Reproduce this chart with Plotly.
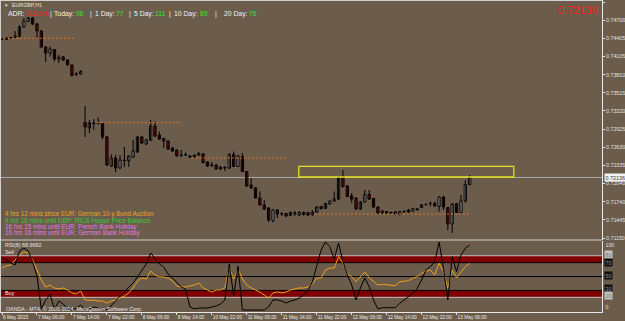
import plotly.graph_objects as go

# ---------------- data ----------------
bar_index = list(range(108))
opens = [0.74392, 0.74384, 0.74409, 0.74417, 0.74433, 0.74588, 0.74677, 0.74734, 0.74637, 0.74523,
         0.74262, 0.74164, 0.74221, 0.74066, 0.74099, 0.74050, 0.73969, 0.73814, 0.73822, 0.73032,
         0.72942, 0.73024, 0.73016, 0.73016, 0.72796, 0.72323, 0.72453, 0.72291, 0.72421, 0.72405,
         0.72470, 0.72551, 0.72796, 0.72682, 0.72747, 0.72975, 0.72828, 0.72771, 0.72730, 0.72616,
         0.72584, 0.72502, 0.72502, 0.72486, 0.72470, 0.72502, 0.72519, 0.72388, 0.72331, 0.72339,
         0.72274, 0.72299, 0.72291, 0.72510, 0.72315, 0.72478, 0.72234, 0.72014, 0.71965, 0.71802,
         0.71688, 0.71639, 0.71435, 0.71606, 0.71549, 0.71549, 0.71517, 0.71557, 0.71525, 0.71566,
         0.71566, 0.71533, 0.71574, 0.71663, 0.71631, 0.71704, 0.71753, 0.71785, 0.72144, 0.71997,
         0.71834, 0.71802, 0.71623, 0.71737, 0.71859, 0.71794, 0.71655, 0.71557, 0.71582, 0.71566,
         0.71574, 0.71541, 0.71582, 0.71574, 0.71590, 0.71623, 0.71647, 0.71696, 0.71712, 0.71712,
         0.71663, 0.71818, 0.71647, 0.71378, 0.71712, 0.71566, 0.71753, 0.72022]
highs = [0.74409, 0.74425, 0.74425, 0.74523, 0.74620, 0.74734, 0.74751, 0.74751, 0.74653, 0.74539,
         0.74278, 0.74270, 0.74229, 0.74132, 0.74115, 0.74058, 0.73977, 0.73855, 0.73887, 0.73301,
         0.73073, 0.73089, 0.73113, 0.73024, 0.72812, 0.72510, 0.72502, 0.72502, 0.72633, 0.72502,
         0.72747, 0.72812, 0.72812, 0.72763, 0.73073, 0.73048, 0.72885, 0.72779, 0.72739, 0.72633,
         0.72592, 0.72584, 0.72543, 0.72494, 0.72510, 0.72551, 0.72535, 0.72405, 0.72388, 0.72356,
         0.72323, 0.72323, 0.72535, 0.72559, 0.72502, 0.72535, 0.72242, 0.72128, 0.71981, 0.71908,
         0.71769, 0.71655, 0.71623, 0.71623, 0.71574, 0.71557, 0.71582, 0.71590, 0.71590, 0.71582,
         0.71574, 0.71606, 0.71671, 0.71671, 0.71720, 0.71769, 0.71908, 0.72160, 0.72258, 0.72014,
         0.71883, 0.71818, 0.71753, 0.71932, 0.71932, 0.71802, 0.71663, 0.71606, 0.71590, 0.71582,
         0.71582, 0.71590, 0.71598, 0.71623, 0.71639, 0.71639, 0.71704, 0.71712, 0.71745, 0.71745,
         0.71826, 0.71834, 0.71655, 0.71720, 0.71720, 0.71851, 0.72095, 0.72177]
lows = [0.74376, 0.74376, 0.74400, 0.74409, 0.74425, 0.74580, 0.74669, 0.74620, 0.74409, 0.74254,
        0.74017, 0.74107, 0.74026, 0.74001, 0.74034, 0.73960, 0.73781, 0.73789, 0.73814, 0.72796,
        0.72861, 0.72910, 0.72999, 0.72755, 0.72323, 0.72307, 0.72225, 0.72274, 0.72307, 0.72307,
        0.72453, 0.72535, 0.72682, 0.72665, 0.72730, 0.72796, 0.72747, 0.72616, 0.72584, 0.72551,
        0.72478, 0.72470, 0.72486, 0.72453, 0.72453, 0.72486, 0.72364, 0.72307, 0.72307, 0.72266,
        0.72258, 0.72242, 0.72274, 0.72307, 0.72307, 0.72225, 0.71989, 0.71948, 0.71794, 0.71680,
        0.71606, 0.71411, 0.71403, 0.71476, 0.71509, 0.71492, 0.71509, 0.71509, 0.71509, 0.71517,
        0.71509, 0.71509, 0.71557, 0.71614, 0.71623, 0.71696, 0.71737, 0.71769, 0.71973, 0.71818,
        0.71720, 0.71606, 0.71606, 0.71729, 0.71769, 0.71639, 0.71549, 0.71541, 0.71541, 0.71541,
        0.71525, 0.71517, 0.71557, 0.71557, 0.71582, 0.71598, 0.71639, 0.71680, 0.71663, 0.71663,
        0.71582, 0.71606, 0.71280, 0.71232, 0.71557, 0.71557, 0.71729, 0.72014]
closes = [0.74392, 0.74409, 0.74417, 0.74441, 0.74588, 0.74685, 0.74734, 0.74637, 0.74523, 0.74262,
          0.74164, 0.74229, 0.74066, 0.74099, 0.74050, 0.73969, 0.73798, 0.73822, 0.73863, 0.72959,
          0.73024, 0.73016, 0.73020, 0.72796, 0.72339, 0.72453, 0.72291, 0.72421, 0.72413, 0.72486,
          0.72568, 0.72796, 0.72698, 0.72747, 0.72975, 0.72812, 0.72763, 0.72730, 0.72600, 0.72568,
          0.72486, 0.72494, 0.72510, 0.72470, 0.72502, 0.72527, 0.72380, 0.72323, 0.72339, 0.72274,
          0.72307, 0.72291, 0.72510, 0.72315, 0.72486, 0.72234, 0.71997, 0.71965, 0.71802, 0.71688,
          0.71623, 0.71443, 0.71606, 0.71541, 0.71541, 0.71509, 0.71566, 0.71549, 0.71566, 0.71533,
          0.71525, 0.71574, 0.71655, 0.71631, 0.71712, 0.71753, 0.71785, 0.72144, 0.71989, 0.71826,
          0.71785, 0.71623, 0.71737, 0.71859, 0.71785, 0.71655, 0.71557, 0.71590, 0.71557, 0.71557,
          0.71541, 0.71582, 0.71585, 0.71606, 0.71631, 0.71614, 0.71688, 0.71700, 0.71715, 0.71671,
          0.71818, 0.71655, 0.71378, 0.71704, 0.71566, 0.71753, 0.72022, 0.72136]

rsi_fast = [76.8, 73.9, 69.5, 66.7, 86.9, 91.2, 86.9, 71.0, 50.8, 3.2,
            16.2, 23.8, 3.2, 14.7, 10.4, 3.2, 1.7, 4.6, 8.9, 1.7,
            3.2, 6.1, 4.6, 1.7, 1.7, 7.5, 14.7, 21.9, 27.7, 33.5,
            40.7, 49.4, 58.0, 68.1, 84.0, 76.8, 68.1, 63.8, 53.7, 47.9,
            40.7, 34.9, 32.0, 6.1, 3.2, 4.6, 4.6, 4.6, 6.1, 7.5,
            10.4, 16.2, 68.1, 21.9, 65.2, 1.7, 1.7, 1.7, 1.7, 1.7,
            1.7, 6.1, 16.2, 16.2, 14.7, 11.8, 14.7, 16.2, 19.0, 23.4,
            30.6, 42.1, 64.2, 88.3, 99.9, 93.1, 75.3, 98.4, 71.4, 52.2,
            37.8, 16.2, 33.5, 47.9, 35.4, 16.2, 3.2, 5.1, 5.1, 5.1,
            5.1, 11.4, 16.2, 20.9, 25.8, 33.0, 45.0, 59.5, 64.2, 71.4,
            99.8, 61.9, 16.2, 78.6, 57.0, 81.1, 90.8, 95.5]
rsi_8 = [62.3, 65.2, 66.7, 73.9, 81.1, 85.4, 84.0, 73.9, 59.5, 45.0,
         34.9, 37.8, 33.5, 32.0, 33.5, 30.6, 26.3, 24.8, 29.1, 16.2,
         15.4, 16.2, 14.7, 14.7, 11.8, 14.7, 16.2, 19.0, 21.9, 26.3,
         33.5, 43.6, 47.9, 46.5, 58.0, 52.2, 49.4, 49.4, 47.9, 43.6,
         36.4, 34.9, 34.9, 36.4, 37.8, 40.7, 33.5, 30.6, 27.7, 30.6,
         30.6, 33.5, 63.8, 46.5, 60.9, 46.5, 37.8, 33.5, 30.6, 27.7,
         23.4, 19.0, 26.3, 27.7, 26.3, 27.7, 30.6, 32.0, 33.5, 33.5,
         34.9, 39.2, 47.9, 47.9, 59.5, 62.3, 62.3, 78.6, 69.5, 53.7,
         49.8, 42.6, 49.8, 56.6, 48.3, 42.6, 37.8, 38.8, 37.8, 37.8,
         36.8, 42.6, 43.6, 44.0, 47.5, 49.8, 54.7, 58.0, 59.5, 52.2,
         69.1, 57.0, 33.0, 59.5, 48.3, 57.0, 64.2, 68.97]

time_tick_bars = [0, 8, 16, 24, 32, 40, 48, 56, 64, 72, 80, 88, 96, 104]
time_tick_labels = ["6 May 2015", "7 May 06:00", "7 May 14:00", "7 May 22:00", "8 May 06:00",
                    "8 May 14:00", "10 May 22:00", "11 May 06:00", "11 May 14:00", "11 May 22:00",
                    "12 May 06:00", "12 May 14:00", "12 May 22:00", "13 May 06:00"]
price_tick_vals = [0.74995, 0.74700, 0.74405, 0.74105, 0.73810, 0.73515, 0.73220,
                   0.72925, 0.72630, 0.72335, 0.72040, 0.71740, 0.71445, 0.71150]
current_price = 0.72136

pivot_levels = [0.74404, 0.73029, 0.72453, 0.71541]
pivot_start = [-0.5, 21.7, 43.4, 71.6]
pivot_end = [16.9, 41.1, 65.2, 107.0]

zone_bars = [67.9, 117.1]
zone_prices = [0.72144, 0.72318]

rsi_bands = [(70, 80), (20, 30)]
rsi_silver_levels = [80, 20]
rsi_black_levels = [70, 50, 30]
rsi_axis_labels = [(100, "100"), (80, "80"), (70, "70"), (50, "50"), (30, "30"), (20, "20"), (0, "0")]

adr_segments = [("ADR:", "w"), ("116.1%", "r"), ("|", "w"), ("Today:", "w"), ("96", "g"),
                ("|", "w"), ("1 Day:", "w"), ("77", "g"), ("|", "w"), ("5 Day:", "w"), ("111", "g"),
                ("|", "w"), ("10 Day:", "w"), ("89", "g"), ("|", "w"), ("20 Day:", "w"), ("76", "g")]
events = [("4 hrs 12 mins since EUR: German 10-y Bond Auction", "#f0a028"),
          ("9 hrs 16 mins until GBP: RICS House Price Balance", "#3cc83c"),
          ("16 hrs 15 mins until EUR: French Bank Holiday", "#e37ae3"),
          ("16 hrs 16 mins until EUR: German Bank Holiday", "#e37ae3")]

# ---------------- geometry / style ----------------
W, H = 625, 321
ML, MR, MT, MB = 0, 23, 0, 9
PW, PH = W - ML - MR, H - MT - MB
BG = "#6c5c4b"
FONT = "Liberation Sans"
LIGHT = "#e2e2e2"
XR = [-0.458, 137.27]
YR = [0.711257, 0.750276]
RR = [-1.15, 102.0]
MAIN_BOTTOM = (PH - 239.5) / PH
RSI_TOP = (PH - 240.5) / PH


def px(x):
    return (x - ML) / PW


def py(y):
    return (H - MB - y) / PH


fig = go.Figure()

# wicks
wx, wy = [], []
for i, h, l in zip(bar_index, highs, lows):
    wx += [i, i, None]
    wy += [h, l, None]
fig.add_trace(go.Scatter(x=wx, y=wy, mode="lines", line=dict(color="#000000", width=1),
                         hoverinfo="skip", xaxis="x", yaxis="y"))

# bodies
min_body = 0.00004
base, height, colors = [], [], []
for o, c in zip(opens, closes):
    lo, hi = min(o, c), max(o, c)
    if hi - lo < min_body:
        mid = (hi + lo) / 2
        lo, hi = mid - min_body / 2, mid + min_body / 2
    base.append(lo)
    height.append(hi - lo)
    colors.append("#ffffff" if c >= o else "#c8171c")
fig.add_trace(go.Bar(x=bar_index, y=height, base=base, width=0.52,
                     marker=dict(color=colors, line=dict(color="#000000", width=1)),
                     hoverinfo="skip", xaxis="x", yaxis="y"))

# pivot dotted lines
for lv, s, e in zip(pivot_levels, pivot_start, pivot_end):
    fig.add_trace(go.Scatter(x=[s, e], y=[lv, lv], mode="lines",
                             line=dict(color="#e0782a", width=1, dash="2px,2px"),
                             hoverinfo="skip", xaxis="x", yaxis="y"))

# RSI lines
fig.add_trace(go.Scatter(x=bar_index, y=rsi_8, mode="lines", line=dict(color="#f0a020", width=1),
                         hoverinfo="skip", xaxis="x2", yaxis="y2"))
fig.add_trace(go.Scatter(x=bar_index, y=rsi_fast, mode="lines", line=dict(color="#000000", width=1),
                         hoverinfo="skip", xaxis="x2", yaxis="y2"))

shapes = []
for lo, hi in rsi_bands:
    shapes.append(dict(type="rect", xref="paper", yref="y2", x0=0, x1=1, y0=lo, y1=hi,
                       fillcolor="#800000", line=dict(width=0), layer="below"))
for lv in rsi_silver_levels:
    shapes.append(dict(type="line", xref="paper", yref="y2", x0=0, x1=1, y0=lv, y1=lv,
                       line=dict(color="#c0c0c0", width=1), layer="below"))
for lv in rsi_black_levels:
    shapes.append(dict(type="line", xref="paper", yref="y2", x0=0, x1=1, y0=lv, y1=lv,
                       line=dict(color="#000000", width=1), layer="below"))
shapes.append(dict(type="line", xref="paper", yref="y", x0=0, x1=1, y0=current_price, y1=current_price,
                   line=dict(color="#a8a8a8", width=1), layer="below"))
shapes.append(dict(type="rect", xref="x", yref="y", x0=zone_bars[0], x1=zone_bars[1],
                   y0=zone_prices[0], y1=zone_prices[1], line=dict(color="#e2e21e", width=1.3),
                   fillcolor="rgba(0,0,0,0)"))
shapes.append(dict(type="line", xref="paper", yref="paper", x0=0, x1=1, y0=py(240), y1=py(240),
                   line=dict(color="#d0d0d0", width=1.2)))
shapes.append(dict(type="line", xref="paper", yref="paper", x0=px(0.5), x1=px(0.5), y0=0, y1=1,
                   line=dict(color="#cfcfcf", width=1)))
shapes.append(dict(type="line", xref="paper", yref="paper", x0=0, x1=1, y0=py(0.5), y1=py(0.5),
                   line=dict(color="#cfcfcf", width=1)))

ann = []


def txt(s, x, y, size, color, xanchor="left", **kw):
    d = dict(text=s, x=px(x), y=py(y), xref="paper", yref="paper", xanchor=xanchor,
             yanchor="middle", showarrow=False, font=dict(family=FONT, size=size, color=color))
    d.update(kw)
    ann.append(d)


seg_x = [6, 24, 48, 52, 74, 88, 93, 114, 127, 132, 153, 167, 172, 198, 213, 222, 247]
col_map = {"w": "#f0f0f0", "r": "#ff2020", "g": "#2ee82e"}
for (s, c), x in zip(adr_segments, seg_x):
    txt(s, x, 14, 6.8, col_map[c])

txt("\u25bc", 2, 5, 4.5, LIGHT)
txt("EURGBP,H1", 10, 5.2, 5.3, LIGHT)
txt("0.72136", 600, 10.5, 11, "#ff1a1a", xanchor="right")

for (s, c), y in zip(events, [214, 220.2, 226.6, 233]):
    txt(s, 3, y, 6.3, c)

txt("RSI(8) 68.9682", 3, 245, 5.4, LIGHT)
txt("Sell", 3, 252.3, 5.4, LIGHT)
txt("Buy", 3, 293.3, 5.4, "#f0f0f0")
txt("OANDA - MT4, \u00a9 2001-2014, MetaQuotes Software Corp.", 4, 308.5, 5.3, "#e6e6e6")

ann.append(dict(text="0.72136", x=px(603.5), y=current_price, xref="paper", yref="y", xanchor="left",
                yanchor="middle", showarrow=False, bgcolor="#f4f4f4", borderpad=0.5,
                font=dict(family=FONT, size=5.4, color="#303030")))

rsi_label_pix = {100: 244, 80: 254.8, 70: 262.8, 50: 275.8, 30: 288.3, 20: 295.8, 0: 306.5}
for v, s in rsi_axis_labels:
    if v in (80, 20):
        bg, fc = "#c4c4c4", "#707070"
    elif v in (70, 50, 30):
        bg, fc = "#101010", "#9a9a9a"
    else:
        bg, fc = None, LIGHT
    d = dict(text=s, x=px(604), y=py(rsi_label_pix[v]), xref="paper", yref="paper", xanchor="left",
             yanchor="middle", showarrow=False, borderpad=0.5,
             font=dict(family=FONT, size=5.2, color=fc))
    if bg:
        d["bgcolor"] = bg
    ann.append(d)

axis_common = dict(showgrid=False, zeroline=False, automargin=False)
fig.update_layout(
    width=W, height=H, margin=dict(l=ML, r=MR, t=MT, b=MB, autoexpand=False),
    paper_bgcolor=BG, plot_bgcolor=BG, showlegend=False, barmode="overlay",
    xaxis=dict(domain=[0, 1], range=XR, anchor="y", showticklabels=False, ticks="", **axis_common),
    yaxis=dict(domain=[MAIN_BOTTOM, 1], range=YR, side="right", anchor="x",
               tickvals=price_tick_vals, ticktext=[f"{v:.5f}" for v in price_tick_vals],
               ticks="outside", ticklen=2, tickcolor=LIGHT, tickfont=dict(family=FONT, size=5.3, color=LIGHT),
               showline=True, linecolor="#e8e8e8", linewidth=1, **axis_common),
    xaxis2=dict(domain=[0, 1], range=XR, anchor="y2", tickvals=time_tick_bars, ticktext=time_tick_labels,
                ticklabelposition="outside right", tickangle=0, ticks="outside", ticklen=2, tickcolor=LIGHT,
                tickfont=dict(family=FONT, size=4.8, color="#ececec"),
                showline=True, linecolor="#e8e8e8", linewidth=1, **axis_common),
    yaxis2=dict(domain=[0, RSI_TOP], range=RR, side="right", anchor="x2", showticklabels=False, ticks="",
                showline=True, linecolor="#e8e8e8", linewidth=1, **axis_common),
    shapes=shapes, annotations=ann,
)

fig.write_html("out.html")
